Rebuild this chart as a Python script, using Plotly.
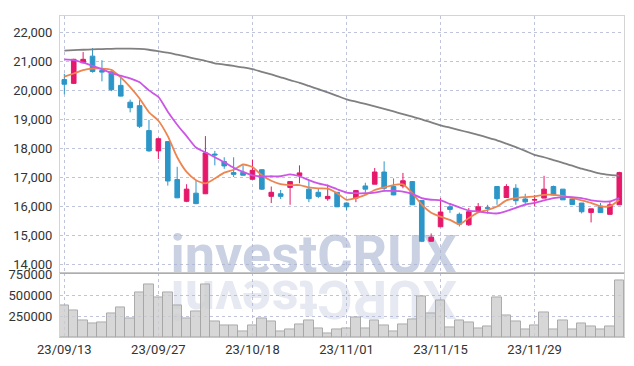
import plotly.graph_objects as go
from plotly.subplots import make_subplots

dates = ["23/09/13","23/09/14","23/09/15","23/09/18","23/09/19","23/09/20","23/09/21","23/09/22","23/09/25","23/09/26",
         "23/09/27","23/10/04","23/10/05","23/10/06","23/10/10","23/10/11","23/10/12","23/10/13","23/10/16","23/10/17",
         "23/10/18","23/10/19","23/10/20","23/10/23","23/10/24","23/10/25","23/10/26","23/10/27","23/10/30","23/10/31",
         "23/11/01","23/11/02","23/11/03","23/11/06","23/11/07","23/11/08","23/11/09","23/11/10","23/11/13","23/11/14",
         "23/11/15","23/11/16","23/11/17","23/11/20","23/11/21","23/11/22","23/11/23","23/11/24","23/11/27","23/11/28",
         "23/11/29","23/11/30","23/12/01","23/12/04","23/12/05","23/12/06","23/12/07","23/12/08","23/12/11","23/12/12"]

opens = [20380,20250,20960,21190,20690,20650,20180,19600,19480,18620,
         17920,18240,16930,16180,16460,16440,17810,17550,17170,17180,
         16940,17270,16350,16440,16660,17070,16600,16490,16270,16490,
         16120,16290,16710,16770,17190,16690,16710,16860,16210,14800,
         15300,15990,15730,15370,15860,15960,16690,16310,16630,16260,
         16220,16290,16690,16600,16260,16120,15790,16010,15730,16060]
highs = [20580,21100,21330,21470,21050,20660,20450,19690,19670,18990,
         18380,18260,17370,16770,16910,18430,17920,17700,17700,17420,
         17620,17280,16690,16570,16880,17420,16890,16630,16760,16500,
         16130,16570,16820,17330,17560,16970,17160,16870,16220,15070,
         16290,16120,15790,15950,16120,16060,16700,16770,16770,16440,
         16400,17060,16720,16600,16260,16120,15920,16120,16180,17200]
lows = [19870,20230,20950,20620,20320,19980,19800,19250,18710,17890,
        17640,16720,16290,16150,16080,16430,17420,17300,17020,17070,
        16930,16570,16120,16260,16060,16800,16150,16290,16200,15980,
        15870,16150,16480,16770,16520,16390,16630,16050,14770,14790,
        15290,15780,15310,15330,15850,15760,16060,16300,16060,16030,
        16010,16290,16390,16230,16060,15760,15450,15780,15720,16060]
closes = [20220,21080,21080,20660,20640,20030,19810,19410,18770,17920,
          18340,16880,16300,16600,16100,17850,17780,17400,17110,17080,
          17250,16600,16490,16350,16860,17160,16270,16350,16350,15990,
          15990,16550,16600,17190,16630,16400,16890,16060,14800,14940,
          15810,15900,15390,15820,15990,15940,16270,16690,16200,16160,
          16240,16600,16400,16230,16070,15820,15920,15790,16060,17170]

ma_short = [20480,20591,20706,20760,20760,20716,20456,20118,19726,19253,
            18960,18429,17700,17193,16909,16797,16966,17169,17270,17450,
            17361,17078,16889,16774,16740,16740,16662,16628,16617,16459,
            16233,16291,16402,16571,16662,16740,16764,16459,16064,15784,
            15649,15537,15388,15600,15800,15880,16000,16211,16291,16324,
            16348,16402,16402,16368,16291,16211,16122,16010,16010,16233]
ma_mid = [21078,21054,20963,20851,20740,20605,20514,20422,20287,20007,
          19780,19274,18824,18429,18037,17868,17700,17531,17338,17193,
          17078,17044,17044,17044,17112,17044,16909,16797,16720,16595,
          16483,16459,16459,16483,16538,16538,16517,16436,16291,16233,
          16211,16088,15970,15860,15830,15784,15760,15841,15953,16064,
          16122,16211,16291,16324,16324,16291,16211,16178,16178,16291]
ma_long = [21380,21395,21410,21425,21435,21443,21448,21450,21440,21410,
           21360,21310,21240,21170,21095,21030,20940,20900,20850,20800,
           20740,20650,20560,20460,20360,20270,20160,20050,19940,19820,
           19700,19620,19540,19460,19370,19280,19190,19100,19010,18900,
           18800,18720,18640,18555,18470,18380,18285,18170,18050,17920,
           17780,17700,17600,17510,17410,17305,17220,17135,17090,17060]

volumes = [379000,321000,195000,161000,172000,276000,356000,222000,528000,632000,
           471000,528000,374000,222000,310000,632000,184000,138000,138000,64000,
           138000,218000,184000,64000,92000,149000,195000,103000,46000,92000,
           103000,230000,103000,195000,138000,64000,149000,207000,486000,287000,
           440000,115000,195000,172000,103000,126000,471000,253000,184000,92000,
           138000,299000,92000,195000,92000,161000,126000,92000,126000,678000]

price_ticks = [14000,15000,16000,17000,18000,19000,20000,21000,22000]
vol_ticks = [250000,500000,750000]
date_ticks = [dates[0], dates[10], dates[20], dates[30], dates[40], dates[50]]

UP = "#E5186A"
DOWN = "#2C96C8"
GRID = "rgba(170,176,205,0.75)"
FONT = dict(family="Roboto", size=13, color="#333333")

fig = make_subplots(rows=2, cols=1, shared_xaxes=True, vertical_spacing=0)

fig.add_trace(go.Candlestick(
    x=dates, open=opens, high=highs, low=lows, close=closes,
    increasing=dict(line=dict(color=UP, width=1), fillcolor=UP),
    decreasing=dict(line=dict(color=DOWN, width=1), fillcolor=DOWN),
    showlegend=False), row=1, col=1)

for vals, col in [(ma_long, "#808080"), (ma_short, "#EE8550"), (ma_mid, "#CC55E6")]:
    fig.add_trace(go.Scatter(x=dates, y=vals, mode="lines",
                             line=dict(color=col, width=1.8, shape="spline", smoothing=0.6),
                             showlegend=False, hoverinfo="skip"), row=1, col=1)

fig.add_trace(go.Bar(x=dates, y=volumes,
                     marker=dict(color="rgba(205,205,205,0.8)", line=dict(color="rgba(165,165,165,0.9)", width=1)),
                     showlegend=False), row=2, col=1)

n = len(dates)
xr = [-0.46, n - 0.5]

fig.update_layout(
    width=634, height=366,
    margin=dict(l=60, r=9, t=9, b=29),
    paper_bgcolor="white", plot_bgcolor="white",
    bargap=0,
    xaxis=dict(type="category", range=xr, rangeslider=dict(visible=False),
               showgrid=True, gridcolor=GRID, griddash="dot", gridwidth=1,
               tickvals=date_ticks, showticklabels=False,
               showline=True, linecolor="#d4d4d4", mirror=True, domain=[0, 1]),
    xaxis2=dict(type="category", range=xr,
                showgrid=True, gridcolor=GRID, griddash="dot", gridwidth=1,
                tickvals=date_ticks, ticktext=date_ticks, tickfont=FONT, ticks="",
                showline=True, linecolor="#c8c8c8", mirror=True, domain=[0, 1]),
    yaxis=dict(domain=[0.198, 1], range=[13690, 22575], tickvals=price_ticks,
               tickformat=",d", tickfont=FONT, showgrid=True, gridcolor=GRID,
               griddash="dot", gridwidth=1, showline=True, linecolor="#d4d4d4",
               mirror=True, zeroline=False, ticks="", ticklabelstandoff=4),
    yaxis2=dict(domain=[0, 0.198], range=[0, 760000], tickvals=vol_ticks,
                tickformat="d", tickfont=FONT, showgrid=True, gridcolor=GRID,
                griddash="dot", gridwidth=1, showline=True, linecolor="#d4d4d4",
                mirror=True, zeroline=False, ticks="", ticklabelstandoff=4),
)

# separator between panels
fig.add_shape(type="line", xref="paper", yref="paper", x0=0, x1=1, y0=0.198, y1=0.198,
              line=dict(color="#ababab", width=1), layer="above")

# watermark and its reflection
fig.add_shape(type="rect", xref="paper", yref="paper", x0=0.1, x1=0.8, y0=0.19, y1=0.35,
              line=dict(width=0), fillcolor="rgba(0,0,0,0)", layer="below",
              label=dict(text="investCRUX", textposition="middle center",
                         font=dict(family="Roboto", size=54, color="#c9d1e3", weight="bold")))
fig.add_shape(type="rect", xref="paper", yref="paper", x0=0.1, x1=0.8, y0=0.03, y1=0.18,
              line=dict(width=0), fillcolor="rgba(0,0,0,0)", layer="below",
              label=dict(text="XURCtsevni", textposition="middle center", textangle=180,
                         font=dict(family="Roboto", size=54, color="#e6e9f1", weight="bold")))

fig.write_html("out.html", config={"displayModeBar": False},
               post_script="document.body.style.margin='0';document.body.style.padding='0';")
